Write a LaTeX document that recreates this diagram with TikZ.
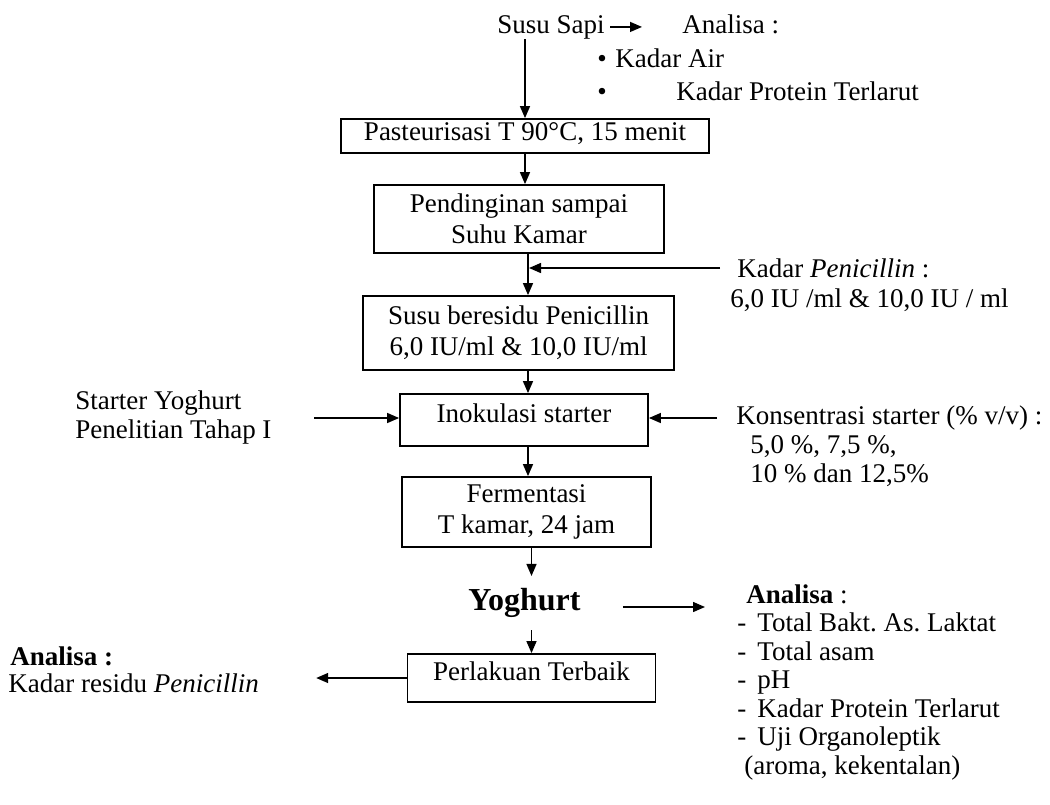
\documentclass[tikz,border=0pt]{standalone}
\usepackage{fontspec}
\setmainfont{Liberation Serif}
\usetikzlibrary{arrows.meta}
\frenchspacing

\begin{document}
\begin{tikzpicture}[x=0.5pt,y=-0.5pt,
  every node/.style={inner sep=0pt,font=\fontsize{13.5}{14.5}\selectfont},
  proses/.style={draw,line width=0.9pt,align=center,font=\fontsize{13.5}{15.5}\selectfont},
  satu/.style={text height=6.5pt,text depth=4pt},
  teks/.style={anchor=base west},
  panah/.style={-{Triangle[length=6pt,width=5pt]},line width=0.7pt}]
  \useasboundingbox (0,0) rectangle (1050,804);

  % alur utama
  \node[proses,text height=7.5pt,text depth=3.5pt,minimum width=184pt,minimum height=17pt] (pas) at (525,136) {Pasteurisasi T 90°C, 15 menit};
  \node[proses,minimum width=145pt,minimum height=34pt] (pend) at (519,219) {Pendinginan sampai\\Suhu Kamar};
  \node[proses,minimum width=155.5pt,minimum height=37pt] (resid) at (518.5,333) {Susu beresidu Penicillin\\6,0 IU/ml \& 10,0 IU/ml};
  \node[proses,satu,minimum width=124pt,minimum height=26pt] (inok) at (524,420) {Inokulasi starter};
  \node[proses,minimum width=124.5pt,minimum height=35pt] (ferm) at (526.5,512) {Fermentasi\\T kamar, 24 jam};
  \node[inner sep=6pt,font=\bfseries\fontsize{16}{17}\selectfont] (yog) at (524.5,603) {Yoghurt};
  \node[proses,satu,minimum width=124pt,minimum height=24pt] (perl) at (531.5,678) {Perlakuan Terbaik};

  % teks samping
  \node[teks] (susu) at (497,33) {Susu Sapi};
  \node[teks] (ana1) at (682,33) {Analisa :};
  \node[teks] (air) at (597,67) {\makebox[9pt][l]{•}Kadar Air};
  \node[teks] (prot) at (597,100) {\makebox[39.5pt][l]{•}Kadar Protein Terlarut};

  \node[teks] (kp1) at (737,277) {Kadar \textit{Penicillin} :};
  \node[teks] (kp2) at (730,307) {6,0 IU /ml \& 10,0 IU / ml};

  \node[teks] (st1) at (75,409) {Starter Yoghurt};
  \node[teks] (st2) at (75,438) {Penelitian Tahap I};

  \node[teks] (ks1) at (736,424) {Konsentrasi starter (\% v/v) :};
  \node[teks] (ks2) at (750,453) {5,0 \%, 7,5 \%,};
  \node[teks] (ks3) at (750,482) {10 \% dan 12,5\%};

  \node[teks] (anaR) at (746,603) {\textbf{Analisa} :};
  \node[teks] (r1) at (737,631.5) {\makebox[10pt][l]{-}Total Bakt. As. Laktat};
  \node[teks] (r2) at (737,660) {\makebox[10pt][l]{-}Total asam};
  \node[teks] (r3) at (737,688.5) {\makebox[10pt][l]{-}pH};
  \node[teks] (r4) at (737,717) {\makebox[10pt][l]{-}Kadar Protein Terlarut};
  \node[teks] (r5) at (737,745.5) {\makebox[10pt][l]{-}Uji Organoleptik};
  \node[teks] (r6) at (744,774) {(aroma, kekentalan)};

  \node[teks] (anaL1) at (10,665) {\textbf{Analisa :}};
  \node[teks] (anaL2) at (8,692) {Kadar residu \textit{Penicillin}};

  % panah
  \coordinate (kol) at (528,0);
  \coordinate (j1) at (529,268);
  \coordinate (kpT) at (720,268);
  \coordinate (stT) at (314,418);
  \coordinate (ksT) at (717,418);

  \draw[panah] (pas.north |- susu.south) -- (pas.north);
  \draw[panah,shorten <=2.5pt,shorten >=20pt] (susu.east) -- (susu.east -| ana1.west);
  \draw[panah] (pas.south) -- (pas.south |- pend.north);
  \draw[panah] (pend.south -| kol) -- (resid.north -| kol);
  \draw[panah] (kpT) -- (j1);
  \draw[panah] (resid.south -| kol) -- (inok.north -| kol);
  \draw[panah] (stT) -- (stT -| inok.west);
  \draw[panah] (ksT) -- (ksT -| inok.east);
  \draw[panah] (inok.south -| kol) -- (ferm.north -| kol);
  \draw[panah] (ferm.south -| perl.north) -- (yog.north -| perl.north);
  \draw[panah,shorten <=15pt,shorten >=20.5pt] ([yshift=-2pt]yog.east) -- ([yshift=-2pt]yog.east -| anaR.west);
  \draw[panah] (yog.south -| perl.north) -- (perl.north);
  \draw[panah,shorten >=28.5pt] (perl.west) -- (perl.west -| anaL2.east);
\end{tikzpicture}
\end{document}
